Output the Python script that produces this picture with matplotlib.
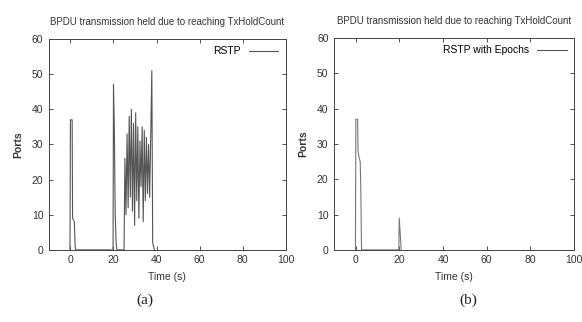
import matplotlib
matplotlib.use('Agg')
import matplotlib.pyplot as plt

plt.rcParams['font.family'] = ['Liberation Sans', 'DejaVu Sans']

# RSTP (a)
rstp_t = [-0.2, 0.0, 0.8, 1.0, 1.8, 2.2, 2.4, 19.8, 20.0, 20.4, 20.8, 21.2, 21.6,
          24.9, 25.3, 25.8, 26.3, 26.8, 27.3, 27.8, 28.3, 28.8, 29.3, 29.8,
          30.3, 30.8, 31.3, 31.8, 32.3, 32.8, 33.3, 33.8, 34.3, 34.8, 35.3,
          35.8, 36.3, 36.8, 37.3, 37.8, 38.2, 38.6, 39.0]
rstp_y = [0, 37, 37, 9, 8, 1, 0, 0, 47, 34, 10, 2, 0,
          0, 26, 10, 33, 12, 38, 15, 40, 11, 36, 7,
          39, 14, 35, 9, 31, 18, 35, 8, 34, 14, 32,
          16, 30, 15, 33, 51, 2, 1, 0]

# RSTP with Epochs (b)
epoch_t = [-0.2, 0.0, 0.8, 1.0, 1.5, 2.0, 2.3, 2.6, 19.7, 19.9, 20.4, 20.8]
epoch_y = [0, 37, 37, 28, 26, 25, 16, 0, 0, 9, 4, 0]

xticks = [0, 20, 40, 60, 80, 100]
yticks = [0, 10, 20, 30, 40, 50, 60]
title = 'BPDU transmission held due to reaching TxHoldCount'

fig = plt.figure(figsize=(5.82, 3.22), dpi=100)
ax1 = fig.add_axes([0.084, 0.224, 0.407, 0.655])
ax2 = fig.add_axes([0.574, 0.224, 0.412, 0.658])

panels = [(ax1, rstp_t, rstp_y, 'RSTP', '(a)', 0.249, '#555555'),
          (ax2, epoch_t, epoch_y, 'RSTP with Epochs', '(b)', 0.804, '#777777')]

for ax, t, y, name, cap, cx, col in panels:
    ax.plot(t, y, '-', color=col, lw=0.8, label=name)
    ax.set_xlim(-10, 100)
    ax.set_ylim(0, 60)
    ax.set_xticks(xticks)
    ax.set_yticks(yticks)
    ax.tick_params(direction='in', top=True, right=True, labelsize=7.5,
                   length=3, width=0.6, colors='#333333', pad=4)
    for s in ax.spines.values():
        s.set_linewidth(0.7)
        s.set_color('#444444')
    ax.set_title(title, fontsize=7, color='#333333', pad=10)
    ax.set_xlabel('Time (s)', fontsize=7.5, color='#333333', labelpad=5)
    ax.set_ylabel('Ports', fontsize=7.5, color='#333333', labelpad=6,
                  fontweight='bold')
    leg = ax.legend(loc='upper right', frameon=False, fontsize=7.5,
                    markerfirst=False, handlelength=2.8, borderaxespad=0.3)
    for h in leg.get_lines():
        h.set_color('#555555')
    fig.text(cx, 0.068, cap, ha='center', va='center',
             fontsize=11, family='Liberation Serif', color='#222222')

fig.savefig('out.png', dpi=100)
